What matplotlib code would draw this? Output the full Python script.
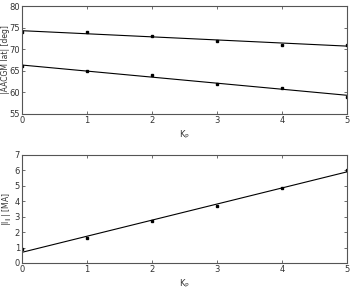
import matplotlib
matplotlib.use('Agg')
import matplotlib.pyplot as plt
import numpy as np

kp = [0, 1, 2, 3, 4, 5]
lat_poleward = [74, 74, 73, 72, 71, 71]
lat_equator = [66, 65, 64, 62, 61, 59]
current = [0.9, 1.6, 2.7, 3.7, 4.85, 6.05]

plt.rcParams['font.family'] = 'DejaVu Sans'
plt.rcParams['font.size'] = 6

fig = plt.figure(figsize=(3.53, 2.88), dpi=100)
ax1 = fig.add_axes([22/353, 1-114/288, 325/353, 108/288])
ax2 = fig.add_axes([22/353, 1-263/288, 325/353, 108/288])

xs = np.array(kp, dtype=float)
xf = np.linspace(0, 5, 50)

for ys in (lat_poleward, lat_equator):
    ax1.plot(xs, ys, 's', color='black', markersize=2.0)
    p = np.polyfit(xs, ys, 1)
    ax1.plot(xf, np.polyval(p, xf), color='black', linewidth=0.8)

ax2.plot(xs, current, 's', color='black', markersize=2.0)
p = np.polyfit(xs, current, 1)
ax2.plot(xf, np.polyval(p, xf), color='black', linewidth=0.8)

ax1.set_xlim(0, 5)
ax1.set_ylim(55, 80)
ax1.set_yticks([55, 60, 65, 70, 75, 80])
ax1.set_ylabel('|AACGM lat| [deg]', color='#333333', fontsize=5.5)
ax1.yaxis.set_label_coords(-0.036, 0.5)

ax2.set_xlim(0, 5)
ax2.set_ylim(0, 7)
ax2.set_yticks(range(8))
ax2.set_ylabel(r'|I$_{\parallel}$| [MA]', color='#333333', fontsize=5.5)
ax2.yaxis.set_label_coords(-0.026, 0.5)

for ax in (ax1, ax2):
    ax.set_xticks(kp)
    ax.set_xlabel(r'K$_\mathregular{P}$', color='#333333')
    ax.xaxis.set_label_coords(0.5, -0.13)
    ax.tick_params(direction='in', top=True, right=True, length=2.5,
                   width=0.6, pad=1.5, labelcolor='#333333', color='#555555')
    for s in ax.spines.values():
        s.set_linewidth(0.8)
        s.set_color('#555555')

fig.savefig('out.png', dpi=100)
